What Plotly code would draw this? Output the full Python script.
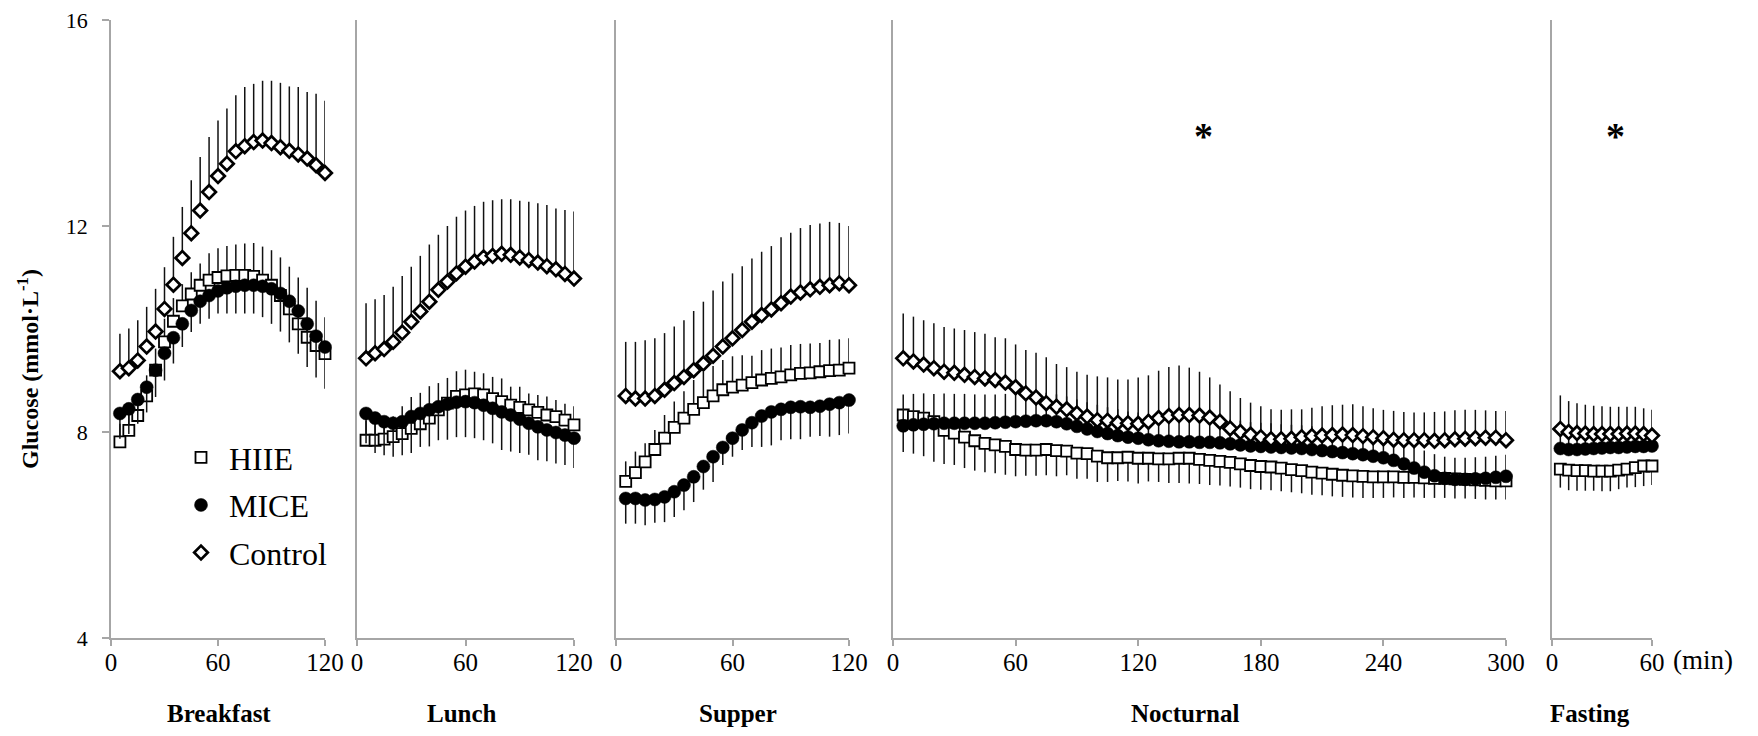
import plotly.graph_objects as go

# ---------------- data ----------------
panels = ["Breakfast", "Lunch", "Supper", "Nocturnal", "Fasting"]
series = ["HIIE", "MICE", "Control"]

breakfast_t = list(range(5, 125, 5))
lunch_t = list(range(5, 125, 5))
supper_t = list(range(5, 125, 5))
nocturnal_t = list(range(5, 305, 5))
fasting_t = list(range(5, 65, 5))

x_ticks = {
    "Breakfast": [0, 60, 120],
    "Lunch": [0, 60, 120],
    "Supper": [0, 60, 120],
    "Nocturnal": [0, 60, 120, 180, 240, 300],
    "Fasting": [0, 60],
}
x_max = {"Breakfast": 120, "Lunch": 120, "Supper": 120, "Nocturnal": 300, "Fasting": 60}
y_ticks = [4, 8, 12, 16]

# Breakfast
breakfast_hiie = [7.81, 8.03, 8.32, 8.70, 9.20, 9.75, 10.15, 10.45, 10.68, 10.85, 10.95, 11.00,
                  11.03, 11.04, 11.04, 11.02, 10.95, 10.85, 10.65, 10.39, 10.10, 9.84, 9.68, 9.52]
breakfast_hiie_err = [0.35, 0.35, 0.38, 0.40, 0.42, 0.45, 0.45, 0.42, 0.42, 0.42, 0.52, 0.57,
                      0.58, 0.60, 0.62, 0.65, 0.65, 0.68, 0.74, 0.82, 0.90, 0.96, 0.87, 0.71]
breakfast_mice = [8.36, 8.45, 8.63, 8.87, 9.20, 9.53, 9.83, 10.10, 10.36, 10.54, 10.65, 10.74,
                  10.80, 10.83, 10.85, 10.85, 10.83, 10.78, 10.69, 10.54, 10.35, 10.10, 9.86, 9.65]
breakfast_mice_err = [0.49, 0.49, 0.47, 0.49, 0.52, 0.53, 0.50, 0.45, 0.42, 0.44, 0.45, 0.44,
                      0.50, 0.53, 0.55, 0.55, 0.60, 0.68, 0.74, 0.80, 0.83, 0.84, 0.80, 0.81]
breakfast_control = [9.18, 9.24, 9.39, 9.66, 9.95, 10.39, 10.86, 11.38, 11.86, 12.30, 12.66, 12.97,
                     13.21, 13.45, 13.55, 13.63, 13.66, 13.61, 13.53, 13.46, 13.39, 13.31, 13.18, 13.03]
breakfast_control_err = [0.73, 0.77, 0.78, 0.77, 0.83, 0.81, 0.93, 0.99, 1.03, 1.04, 1.07, 1.08,
                         1.07, 1.09, 1.15, 1.13, 1.16, 1.21, 1.25, 1.25, 1.31, 1.29, 1.39, 1.40]

# Lunch
lunch_hiie = [7.84, 7.84, 7.86, 7.91, 7.97, 8.07, 8.16, 8.27, 8.43, 8.56, 8.69, 8.72,
              8.74, 8.72, 8.65, 8.59, 8.52, 8.48, 8.43, 8.38, 8.33, 8.30, 8.23, 8.14]
lunch_hiie_err = [0.38, 0.38, 0.38, 0.39, 0.53, 0.61, 0.60, 0.62, 0.52, 0.49, 0.49, 0.49,
                  0.43, 0.42, 0.42, 0.45, 0.36, 0.40, 0.32, 0.34, 0.36, 0.32, 0.32, 0.36]
lunch_mice = [8.36, 8.27, 8.20, 8.17, 8.20, 8.30, 8.36, 8.43, 8.49, 8.54, 8.58, 8.59,
              8.57, 8.52, 8.46, 8.39, 8.33, 8.25, 8.17, 8.10, 8.04, 7.99, 7.94, 7.88]
lunch_mice_err = [0.58, 0.68, 0.65, 0.65, 0.65, 0.71, 0.65, 0.71, 0.65, 0.69, 0.68, 0.69,
                  0.69, 0.68, 0.68, 0.74, 0.71, 0.66, 0.61, 0.65, 0.61, 0.60, 0.58, 0.58]
lunch_control = [9.43, 9.53, 9.61, 9.75, 9.93, 10.14, 10.34, 10.53, 10.76, 10.92, 11.08, 11.21,
                 11.31, 11.39, 11.42, 11.46, 11.44, 11.39, 11.34, 11.29, 11.22, 11.16, 11.07, 10.98]
lunch_control_err = [1.07, 1.05, 1.05, 1.07, 1.10, 1.07, 1.08, 1.11, 1.07, 1.08, 1.10, 1.09,
                     1.08, 1.08, 1.08, 1.06, 1.08, 1.10, 1.13, 1.15, 1.19, 1.18, 1.24, 1.30]

# Supper
supper_hiie = [7.04, 7.21, 7.42, 7.66, 7.88, 8.09, 8.27, 8.44, 8.57, 8.70, 8.82, 8.87,
               8.91, 8.96, 9.01, 9.04, 9.07, 9.11, 9.14, 9.15, 9.17, 9.19, 9.20, 9.24]
supper_hiie_err = [0.39, 0.41, 0.36, 0.38, 0.45, 0.50, 0.52, 0.57, 0.60, 0.58, 0.58, 0.60,
                   0.58, 0.52, 0.58, 0.58, 0.57, 0.58, 0.57, 0.57, 0.56, 0.60, 0.60, 0.58]
supper_mice = [6.71, 6.71, 6.68, 6.69, 6.74, 6.84, 6.97, 7.13, 7.33, 7.52, 7.70, 7.88,
               8.04, 8.18, 8.31, 8.39, 8.44, 8.48, 8.49, 8.48, 8.50, 8.54, 8.57, 8.62]
supper_mice_err = [0.49, 0.49, 0.49, 0.45, 0.49, 0.49, 0.49, 0.49, 0.45, 0.49, 0.34, 0.36,
                   0.39, 0.47, 0.60, 0.65, 0.60, 0.62, 0.63, 0.57, 0.58, 0.63, 0.63, 0.65]
supper_control = [8.70, 8.65, 8.65, 8.70, 8.82, 8.95, 9.07, 9.20, 9.33, 9.48, 9.66, 9.82,
                  9.98, 10.14, 10.27, 10.38, 10.50, 10.63, 10.71, 10.77, 10.82, 10.85, 10.89, 10.85]
supper_control_err = [1.05, 1.10, 1.13, 1.12, 1.10, 1.10, 1.10, 1.15, 1.20, 1.27, 1.26, 1.26,
                      1.24, 1.23, 1.23, 1.23, 1.28, 1.24, 1.25, 1.25, 1.23, 1.23, 1.17, 1.15]

# Nocturnal
nocturnal_hiie = [8.33, 8.30, 8.27, 8.20, 8.03, 7.98, 7.90, 7.83, 7.78, 7.75,
                  7.72, 7.66, 7.65, 7.65, 7.66, 7.64, 7.63, 7.59, 7.58, 7.53,
                  7.50, 7.50, 7.51, 7.49, 7.49, 7.48, 7.48, 7.49, 7.49, 7.47,
                  7.45, 7.43, 7.41, 7.38, 7.35, 7.33, 7.32, 7.30, 7.27, 7.25,
                  7.22, 7.20, 7.18, 7.16, 7.15, 7.14, 7.13, 7.13, 7.13, 7.12,
                  7.12, 7.11, 7.10, 7.10, 7.09, 7.08, 7.07, 7.06, 7.05, 7.05]
nocturnal_hiie_err = [0.72, 0.72, 0.74, 0.78, 0.65, 0.62, 0.60, 0.58, 0.56, 0.55,
                      0.55, 0.52, 0.50, 0.50, 0.50, 0.50, 0.47, 0.50, 0.49, 0.50,
                      0.47, 0.45, 0.47, 0.49, 0.45, 0.45, 0.47, 0.48, 0.49, 0.48,
                      0.48, 0.47, 0.47, 0.46, 0.46, 0.45, 0.45, 0.45, 0.44, 0.44,
                      0.44, 0.43, 0.43, 0.42, 0.42, 0.42, 0.41, 0.41, 0.40, 0.40,
                      0.39, 0.39, 0.38, 0.38, 0.38, 0.37, 0.37, 0.37, 0.36, 0.36]
nocturnal_mice = [8.12, 8.14, 8.15, 8.16, 8.17, 8.17, 8.17, 8.17, 8.17, 8.18,
                  8.19, 8.20, 8.21, 8.22, 8.22, 8.20, 8.16, 8.11, 8.06, 8.01,
                  7.97, 7.93, 7.90, 7.88, 7.85, 7.83, 7.82, 7.81, 7.81, 7.80,
                  7.80, 7.79, 7.77, 7.75, 7.73, 7.72, 7.71, 7.70, 7.69, 7.68,
                  7.66, 7.64, 7.62, 7.60, 7.58, 7.56, 7.53, 7.50, 7.45, 7.38,
                  7.30, 7.22, 7.15, 7.10, 7.08, 7.08, 7.09, 7.10, 7.12, 7.14]
nocturnal_mice_err = [0.61, 0.60, 0.60, 0.58, 0.58, 0.57, 0.57, 0.56, 0.56, 0.55,
                      0.55, 0.55, 0.54, 0.54, 0.54, 0.53, 0.53, 0.52, 0.52, 0.52,
                      0.51, 0.51, 0.50, 0.50, 0.50, 0.49, 0.49, 0.49, 0.48, 0.48,
                      0.48, 0.47, 0.47, 0.47, 0.46, 0.46, 0.46, 0.45, 0.45, 0.45,
                      0.45, 0.44, 0.44, 0.44, 0.44, 0.43, 0.43, 0.43, 0.43, 0.42,
                      0.42, 0.42, 0.42, 0.42, 0.42, 0.42, 0.42, 0.42, 0.42, 0.42]
nocturnal_control = [9.43, 9.37, 9.31, 9.24, 9.17, 9.15, 9.11, 9.07, 9.04, 9.01,
                     8.96, 8.87, 8.75, 8.67, 8.56, 8.49, 8.44, 8.36, 8.30, 8.23,
                     8.22, 8.18, 8.17, 8.16, 8.20, 8.27, 8.31, 8.33, 8.33, 8.32,
                     8.28, 8.20, 8.07, 8.00, 7.95, 7.90, 7.86, 7.86, 7.87, 7.90,
                     7.92, 7.93, 7.94, 7.95, 7.94, 7.92, 7.90, 7.88, 7.85, 7.84,
                     7.84, 7.84, 7.83, 7.84, 7.86, 7.87, 7.88, 7.89, 7.89, 7.84]
nocturnal_control_err = [0.87, 0.87, 0.86, 0.87, 0.87, 0.86, 0.87, 0.87, 0.87, 0.83,
                         0.86, 0.83, 0.84, 0.87, 0.89, 0.83, 0.82, 0.81, 0.81, 0.85,
                         0.84, 0.84, 0.85, 0.90, 0.90, 0.92, 0.95, 0.96, 0.92, 0.85,
                         0.78, 0.72, 0.72, 0.66, 0.62, 0.60, 0.58, 0.57, 0.57, 0.54,
                         0.55, 0.57, 0.58, 0.58, 0.60, 0.58, 0.56, 0.55, 0.56, 0.55,
                         0.54, 0.54, 0.56, 0.56, 0.56, 0.56, 0.55, 0.53, 0.52, 0.57]

# Fasting
fasting_hiie = [7.28, 7.26, 7.25, 7.25, 7.24, 7.24, 7.24, 7.26, 7.28, 7.31, 7.34, 7.34]
fasting_hiie_err = [0.36, 0.39, 0.39, 0.39, 0.38, 0.39, 0.39, 0.37, 0.36, 0.38, 0.39, 0.37]
fasting_mice = [7.68, 7.66, 7.66, 7.67, 7.68, 7.69, 7.70, 7.70, 7.71, 7.72, 7.72, 7.73]
fasting_mice_err = [0.30, 0.30, 0.30, 0.30, 0.30, 0.30, 0.30, 0.30, 0.30, 0.30, 0.30, 0.30]
fasting_control = [8.06, 8.00, 7.98, 7.97, 7.96, 7.96, 7.96, 7.96, 7.97, 7.97, 7.96, 7.93]
fasting_control_err = [0.65, 0.60, 0.58, 0.56, 0.55, 0.54, 0.53, 0.53, 0.52, 0.52, 0.50, 0.50]

TIMES = {"Breakfast": breakfast_t, "Lunch": lunch_t, "Supper": supper_t,
         "Nocturnal": nocturnal_t, "Fasting": fasting_t}
VALUES = {
    "Breakfast": {"HIIE": breakfast_hiie, "MICE": breakfast_mice, "Control": breakfast_control},
    "Lunch": {"HIIE": lunch_hiie, "MICE": lunch_mice, "Control": lunch_control},
    "Supper": {"HIIE": supper_hiie, "MICE": supper_mice, "Control": supper_control},
    "Nocturnal": {"HIIE": nocturnal_hiie, "MICE": nocturnal_mice, "Control": nocturnal_control},
    "Fasting": {"HIIE": fasting_hiie, "MICE": fasting_mice, "Control": fasting_control},
}
ERRORS = {
    "Breakfast": {"HIIE": breakfast_hiie_err, "MICE": breakfast_mice_err, "Control": breakfast_control_err},
    "Lunch": {"HIIE": lunch_hiie_err, "MICE": lunch_mice_err, "Control": lunch_control_err},
    "Supper": {"HIIE": supper_hiie_err, "MICE": supper_mice_err, "Control": supper_control_err},
    "Nocturnal": {"HIIE": nocturnal_hiie_err, "MICE": nocturnal_mice_err, "Control": nocturnal_control_err},
    "Fasting": {"HIIE": fasting_hiie_err, "MICE": fasting_mice_err, "Control": fasting_control_err},
}
# error-bar direction (+1 up, -1 down) per panel
ERR_DIR = {
    "Breakfast": {"HIIE": 1, "MICE": -1, "Control": 1},
    "Lunch": {"HIIE": 1, "MICE": -1, "Control": 1},
    "Supper": {"HIIE": 1, "MICE": -1, "Control": 1},
    "Nocturnal": {"HIIE": -1, "MICE": 1, "Control": 1},
    "Fasting": {"HIIE": -1, "MICE": 1, "Control": 1},
}

# ---------------- geometry (page pixels; body has an 8px margin) ----------------
OFF = 8
W, H = 1758 - 2 * OFF, 736 - 2 * OFF
PLOT_L, PLOT_R, PLOT_T, PLOT_B = 111, 1652, 20, 638     # page coordinates
ML, MR = PLOT_L - OFF, (W + OFF) - PLOT_R
MT, MB = PLOT_T - OFF, (H + OFF) - PLOT_B
PW = PLOT_R - PLOT_L
PH = PLOT_B - PLOT_T

panel_px = {"Breakfast": (111, 325), "Lunch": (357, 574), "Supper": (616, 849),
            "Nocturnal": (893, 1506), "Fasting": (1552, 1652)}
title_px = {"Breakfast": 219, "Lunch": 462, "Supper": 738, "Nocturnal": 1185, "Fasting": 1590}


def px_x(X):
    return (X - PLOT_L) / PW


def px_y(Y):
    return (PLOT_B - Y) / PH


SERIF = "Liberation Serif"
AXIS_GRAY = "#a6a6a6"

marker_style = {
    "HIIE": dict(symbol="square", size=11, color="white", line=dict(color="black", width=1.8)),
    "MICE": dict(symbol="circle", size=13, color="black", line=dict(color="black", width=0.5)),
    "Control": dict(symbol="diamond", size=10.5, color="white", line=dict(color="black", width=2.7)),
}

fig = go.Figure()
for i, p in enumerate(panels):
    xa = "x" if i == 0 else f"x{i + 1}"
    ya = "y" if i == 0 else f"y{i + 1}"
    for s in series:
        err = ERRORS[p][s]
        zeros = [0] * len(err)
        up = err if ERR_DIR[p][s] > 0 else zeros
        down = err if ERR_DIR[p][s] < 0 else zeros
        fig.add_trace(go.Scatter(
            x=TIMES[p], y=VALUES[p][s], mode="markers", name="\u00a0" + s,
            xaxis=xa, yaxis=ya, legendgroup=s, showlegend=(i == 0),
            marker=marker_style[s], cliponaxis=False,
            error_y=dict(type="data", symmetric=False, array=up, arrayminus=down,
                         width=0, thickness=1.5, color="#111111"),
        ))

layout = dict(
    width=W, height=H, paper_bgcolor="white", plot_bgcolor="white",
    margin=dict(l=ML, r=MR, t=MT, b=MB, autoexpand=False),
    font=dict(family=SERIF, color="black"),
    showlegend=True,
    legend=dict(x=px_x(181), y=px_y(430), xanchor="left", yanchor="top",
                bgcolor="rgba(0,0,0,0)", borderwidth=0,
                font=dict(family=SERIF, size=32, color="black"),
                tracegroupgap=3, traceorder="grouped", itemwidth=30),
)
for i, p in enumerate(panels):
    n = "" if i == 0 else str(i + 1)
    xa = "x" if i == 0 else f"x{i + 1}"
    ya = "y" if i == 0 else f"y{i + 1}"
    l, r = panel_px[p]
    layout[f"xaxis{n}"] = dict(
        domain=[px_x(l), px_x(r)], range=[0, x_max[p]], anchor=ya,
        tickvals=x_ticks[p], ticktext=[str(v) for v in x_ticks[p]],
        showline=True, linecolor=AXIS_GRAY, linewidth=1.5,
        ticks="outside", ticklen=6, tickwidth=1.5, tickcolor=AXIS_GRAY,
        showgrid=False, zeroline=False, automargin=False,
        ticklabelstandoff=-5, ticklabeloverflow="allow",
        tickfont=dict(family=SERIF, size=25, color="black"),
    )
    layout[f"yaxis{n}"] = dict(
        domain=[0, 1], range=[4, 16], anchor=xa,
        tickvals=y_ticks, ticktext=[str(v) for v in y_ticks],
        showline=True, linecolor=AXIS_GRAY, linewidth=1.5,
        ticks="outside" if i == 0 else "", ticklen=7, tickwidth=1.5, tickcolor=AXIS_GRAY,
        showticklabels=(i == 0), ticklabelstandoff=10, ticklabeloverflow="allow",
        showgrid=False, zeroline=False, automargin=False,
        tickfont=dict(family=SERIF, size=22, color="black"),
    )
fig.update_layout(**layout)

annotations = []
for p in panels:
    annotations.append(dict(
        text=f"<b>{p}</b>", xref="paper", yref="paper",
        x=px_x(title_px[p]), y=px_y(713),
        xanchor="center", yanchor="middle", showarrow=False,
        font=dict(family=SERIF, size=25, color="black"),
    ))
annotations.append(dict(
    text="<b>Glucose (mmol·L<sup>-1</sup>)</b>", xref="paper", yref="paper",
    x=px_x(28), y=px_y(369), textangle=-90,
    xanchor="center", yanchor="middle", showarrow=False,
    font=dict(family=SERIF, size=24, color="black"),
))
annotations.append(dict(
    text="(min)", xref="paper", yref="paper",
    x=px_x(1703), y=px_y(660),
    xanchor="center", yanchor="middle", showarrow=False,
    font=dict(family=SERIF, size=27, color="black"),
))
annotations.append(dict(text="<b>*</b>", xref="x4", yref="y4", x=152, y=13.75,
                        showarrow=False, font=dict(family=SERIF, size=38, color="black")))
annotations.append(dict(text="<b>*</b>", xref="x5", yref="y5", x=38, y=13.75,
                        showarrow=False, font=dict(family=SERIF, size=38, color="black")))
fig.update_layout(annotations=annotations)

fig.write_html("out.html")
